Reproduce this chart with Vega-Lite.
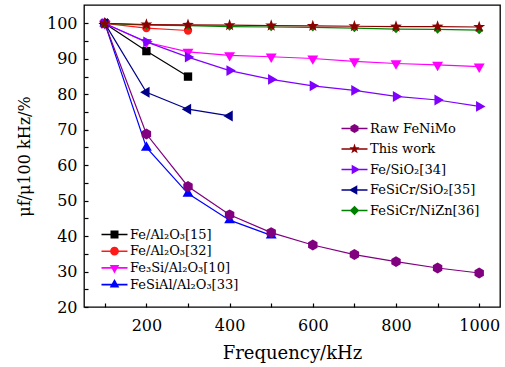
{
  "$schema": "https://vega.github.io/schema/vega-lite/v6.json",
  "width": 416,
  "height": 302,
  "autosize": {"type": "none"},
  "padding": {"left": 84, "top": 5, "right": 5, "bottom": 60},
  "background": "white",
  "config": {
    "view": {"stroke": "black", "strokeWidth": 1.3},
    "font": "DejaVu Serif",
    "axis": {"labelFont": "DejaVu Serif", "titleFont": "DejaVu Serif", "labelColor": "black", "titleColor": "black", "tickColor": "black", "tickWidth": 1.2, "grid": false, "domain": false, "titleFontWeight": "normal"},
    "legend": {"labelFont": "DejaVu Serif", "labelFontSize": 13, "labelColor": "black", "orient": "none", "padding": 0, "labelOffset": 9, "symbolSize": 64, "symbolStrokeWidth": 0}
  },
  "data": {"values": [
    {"s": "Fe/Al₂O₃[15]", "f": 100, "v": 100}, {"s": "Fe/Al₂O₃[15]", "f": 200, "v": 92.2}, {"s": "Fe/Al₂O₃[15]", "f": 300, "v": 85},
    {"s": "Fe/Al₂O₃[32]", "f": 100, "v": 100}, {"s": "Fe/Al₂O₃[32]", "f": 200, "v": 98.7}, {"s": "Fe/Al₂O₃[32]", "f": 300, "v": 98},
    {"s": "Fe₃Si/Al₂O₃[10]", "f": 100, "v": 100}, {"s": "Fe₃Si/Al₂O₃[10]", "f": 200, "v": 94.7}, {"s": "Fe₃Si/Al₂O₃[10]", "f": 300, "v": 92}, {"s": "Fe₃Si/Al₂O₃[10]", "f": 400, "v": 91}, {"s": "Fe₃Si/Al₂O₃[10]", "f": 500, "v": 90.6}, {"s": "Fe₃Si/Al₂O₃[10]", "f": 600, "v": 90.1}, {"s": "Fe₃Si/Al₂O₃[10]", "f": 700, "v": 89.3}, {"s": "Fe₃Si/Al₂O₃[10]", "f": 800, "v": 88.7}, {"s": "Fe₃Si/Al₂O₃[10]", "f": 900, "v": 88.3}, {"s": "Fe₃Si/Al₂O₃[10]", "f": 1000, "v": 87.8},
    {"s": "FeSiAl/Al₂O₃[33]", "f": 100, "v": 100}, {"s": "FeSiAl/Al₂O₃[33]", "f": 200, "v": 65}, {"s": "FeSiAl/Al₂O₃[33]", "f": 300, "v": 52}, {"s": "FeSiAl/Al₂O₃[33]", "f": 400, "v": 44.5}, {"s": "FeSiAl/Al₂O₃[33]", "f": 500, "v": 40.2},
    {"s": "Raw FeNiMo", "f": 100, "v": 100}, {"s": "Raw FeNiMo", "f": 200, "v": 68.8}, {"s": "Raw FeNiMo", "f": 300, "v": 54}, {"s": "Raw FeNiMo", "f": 400, "v": 46}, {"s": "Raw FeNiMo", "f": 500, "v": 41}, {"s": "Raw FeNiMo", "f": 600, "v": 37.5}, {"s": "Raw FeNiMo", "f": 700, "v": 34.8}, {"s": "Raw FeNiMo", "f": 800, "v": 32.8}, {"s": "Raw FeNiMo", "f": 900, "v": 31}, {"s": "Raw FeNiMo", "f": 1000, "v": 29.6},
    {"s": "Fe/SiO₂[34]", "f": 100, "v": 100}, {"s": "Fe/SiO₂[34]", "f": 200, "v": 94.8}, {"s": "Fe/SiO₂[34]", "f": 300, "v": 90.5}, {"s": "Fe/SiO₂[34]", "f": 400, "v": 86.7}, {"s": "Fe/SiO₂[34]", "f": 500, "v": 84.2}, {"s": "Fe/SiO₂[34]", "f": 600, "v": 82.4}, {"s": "Fe/SiO₂[34]", "f": 700, "v": 81.1}, {"s": "Fe/SiO₂[34]", "f": 800, "v": 79.4}, {"s": "Fe/SiO₂[34]", "f": 900, "v": 78.4}, {"s": "Fe/SiO₂[34]", "f": 1000, "v": 76.6},
    {"s": "FeSiCr/SiO₂[35]", "f": 100, "v": 100}, {"s": "FeSiCr/SiO₂[35]", "f": 200, "v": 80.6}, {"s": "FeSiCr/SiO₂[35]", "f": 300, "v": 75.8}, {"s": "FeSiCr/SiO₂[35]", "f": 400, "v": 73.9},
    {"s": "FeSiCr/NiZn[36]", "f": 100, "v": 100}, {"s": "FeSiCr/NiZn[36]", "f": 200, "v": 99.5}, {"s": "FeSiCr/NiZn[36]", "f": 300, "v": 99.4}, {"s": "FeSiCr/NiZn[36]", "f": 400, "v": 99.1}, {"s": "FeSiCr/NiZn[36]", "f": 500, "v": 99}, {"s": "FeSiCr/NiZn[36]", "f": 600, "v": 98.9}, {"s": "FeSiCr/NiZn[36]", "f": 700, "v": 98.7}, {"s": "FeSiCr/NiZn[36]", "f": 800, "v": 98.4}, {"s": "FeSiCr/NiZn[36]", "f": 900, "v": 98.3}, {"s": "FeSiCr/NiZn[36]", "f": 1000, "v": 98.1},
    {"s": "This work", "f": 100, "v": 100}, {"s": "This work", "f": 200, "v": 99.7}, {"s": "This work", "f": 300, "v": 99.6}, {"s": "This work", "f": 400, "v": 99.5}, {"s": "This work", "f": 500, "v": 99.4}, {"s": "This work", "f": 600, "v": 99.3}, {"s": "This work", "f": 700, "v": 99.2}, {"s": "This work", "f": 800, "v": 99.1}, {"s": "This work", "f": 900, "v": 99.1}, {"s": "This work", "f": 1000, "v": 99.0}
  ]},
  "encoding": {
    "x": {
      "field": "f", "type": "quantitative",
      "scale": {"domain": [50, 1050], "nice": false, "zero": false},
      "axis": {
        "title": "Frequency/kHz", "titleFontSize": 18, "titlePadding": 11, "labelFontSize": 16, "labelPadding": 14, "tickSize": -4, "format": "d",
        "values": [100, 200, 300, 400, 500, 600, 700, 800, 900, 1000],
        "labelExpr": "datum.value % 200 === 0 ? datum.label : ''"
      }
    },
    "y": {
      "field": "v", "type": "quantitative",
      "scale": {"domain": [20, 105.2], "nice": false, "zero": false},
      "axis": {
        "title": "μf/μ100 kHz/%", "titleFontSize": 16, "titlePadding": 14, "labelFontSize": 16, "labelPadding": 11, "tickSize": -4,
        "values": [20, 25, 30, 35, 40, 45, 50, 55, 60, 65, 70, 75, 80, 85, 90, 95, 100],
        "labelExpr": "datum.value % 10 === 0 ? datum.label : ''"
      }
    }
  },
  "layer": [
    {
      "transform": [{"filter": {"field": "s", "oneOf": ["Fe/Al₂O₃[15]", "Fe/Al₂O₃[32]", "Fe₃Si/Al₂O₃[10]", "FeSiAl/Al₂O₃[33]"]}}],
      "layer": [
        {
          "mark": {"type": "line", "strokeWidth": 1.2},
          "encoding": {
            "color": {
              "field": "s", "type": "nominal",
              "scale": {"domain": ["Fe/Al₂O₃[15]", "Fe/Al₂O₃[32]", "Fe₃Si/Al₂O₃[10]", "FeSiAl/Al₂O₃[33]"], "range": ["#000000", "#ff1a1a", "#ff00ff", "#0000ff"]},
              "legend": {
                "title": null, "legendX": 24, "legendY": 223, "rowPadding": 2.7,
                "encode": {
                  "symbols": {
                    "update": {
                      "shape": {"signal": "datum.value === 'Fe/Al₂O₃[15]' ? 'M-3.25,-0.2H3.25V0.2H-3.25ZM-1,-1H1V1H-1Z' : datum.value === 'Fe/Al₂O₃[32]' ? 'M-3.25,-0.2H3.25V0.2H-3.25ZM-1.1,0A1.1,1.1,0,1,1,1.1,0A1.1,1.1,0,1,1,-1.1,0Z' : datum.value === 'Fe₃Si/Al₂O₃[10]' ? 'M-3.25,-0.2H3.25V0.2H-3.25ZM-1.2,-0.7L1.2,-0.7L0,1.4Z' : 'M-3.25,-0.2H3.25V0.2H-3.25ZM1.2,0.7L-1.2,0.7L0,-1.4Z'"}
                    }
                  }
                }
              }
            }
          }
        },
        {
          "mark": {"type": "point", "filled": true, "opacity": 1, "size": 70},
          "encoding": {
            "color": {
              "field": "s", "type": "nominal",
              "scale": {"domain": ["Fe/Al₂O₃[15]", "Fe/Al₂O₃[32]", "Fe₃Si/Al₂O₃[10]", "FeSiAl/Al₂O₃[33]"], "range": ["#000000", "#ff1a1a", "#ff00ff", "#0000ff"]},
              "legend": {
                "title": null, "legendX": 24, "legendY": 223, "rowPadding": 2.7,
                "encode": {
                  "symbols": {
                    "update": {
                      "shape": {"signal": "datum.value === 'Fe/Al₂O₃[15]' ? 'M-3.25,-0.2H3.25V0.2H-3.25ZM-1,-1H1V1H-1Z' : datum.value === 'Fe/Al₂O₃[32]' ? 'M-3.25,-0.2H3.25V0.2H-3.25ZM-1.1,0A1.1,1.1,0,1,1,1.1,0A1.1,1.1,0,1,1,-1.1,0Z' : datum.value === 'Fe₃Si/Al₂O₃[10]' ? 'M-3.25,-0.2H3.25V0.2H-3.25ZM-1.2,-0.7L1.2,-0.7L0,1.4Z' : 'M-3.25,-0.2H3.25V0.2H-3.25ZM1.2,0.7L-1.2,0.7L0,-1.4Z'"}
                    }
                  }
                }
              }
            },
            "shape": {
              "field": "s", "type": "nominal", "legend": null,
              "scale": {"domain": ["FeSiAl/Al₂O₃[33]", "Fe₃Si/Al₂O₃[10]", "Fe/Al₂O₃[32]", "Fe/Al₂O₃[15]"], "range": ["M1.3,0.75L-1.3,0.75L0,-1.5Z", "M-1.3,-0.75L1.3,-0.75L0,1.5Z", "circle", "square"]}
            }
          }
        }
      ]
    },
    {
      "transform": [{"filter": {"field": "s", "oneOf": ["Raw FeNiMo", "Fe/SiO₂[34]", "FeSiCr/SiO₂[35]", "FeSiCr/NiZn[36]", "This work"]}}],
      "layer": [
        {
          "mark": {"type": "line", "strokeWidth": 1.2},
          "encoding": {
            "color": {
              "field": "s", "type": "nominal",
              "scale": {"domain": ["Raw FeNiMo", "This work", "Fe/SiO₂[34]", "FeSiCr/SiO₂[35]", "FeSiCr/NiZn[36]"], "range": ["#800080", "#8b0000", "#8000ff", "#00008b", "#008000"]},
              "legend": {
                "title": null, "legendX": 264, "legendY": 117, "rowPadding": 6.5,
                "encode": {
                  "symbols": {
                    "update": {
                      "shape": {"signal": "datum.value === 'Raw FeNiMo' ? 'M-3.25,-0.2H3.25V0.2H-3.25ZM0,-1.15L1,-0.575L1,0.575L0,1.15L-1,0.575L-1,-0.575Z' : datum.value === 'This work' ? 'M-3.25,-0.2H3.25V0.2H-3.25ZM0,-1.35L0.318,-0.437L1.284,-0.418L0.514,0.167L0.794,1.093L0,0.54L-0.794,1.093L-0.514,0.167L-1.284,-0.418L-0.318,-0.437Z' : datum.value === 'Fe/SiO₂[34]' ? 'M-3.25,-0.2H3.25V0.2H-3.25ZM-0.7,1.2L-0.7,-1.2L1.4,0Z' : datum.value === 'FeSiCr/SiO₂[35]' ? 'M-3.25,-0.2H3.25V0.2H-3.25ZM0.7,-1.2L0.7,1.2L-1.4,0Z' : 'M-3.25,-0.2H3.25V0.2H-3.25ZM0,-1.2L1.2,0L0,1.2L-1.2,0Z'"}
                    }
                  }
                }
              }
            }
          }
        },
        {
          "mark": {"type": "point", "filled": true, "opacity": 1, "size": 70},
          "encoding": {
            "color": {
              "field": "s", "type": "nominal",
              "scale": {"domain": ["Raw FeNiMo", "This work", "Fe/SiO₂[34]", "FeSiCr/SiO₂[35]", "FeSiCr/NiZn[36]"], "range": ["#800080", "#8b0000", "#8000ff", "#00008b", "#008000"]},
              "legend": {
                "title": null, "legendX": 264, "legendY": 117, "rowPadding": 6.5,
                "encode": {
                  "symbols": {
                    "update": {
                      "shape": {"signal": "datum.value === 'Raw FeNiMo' ? 'M-3.25,-0.2H3.25V0.2H-3.25ZM0,-1.15L1,-0.575L1,0.575L0,1.15L-1,0.575L-1,-0.575Z' : datum.value === 'This work' ? 'M-3.25,-0.2H3.25V0.2H-3.25ZM0,-1.35L0.318,-0.437L1.284,-0.418L0.514,0.167L0.794,1.093L0,0.54L-0.794,1.093L-0.514,0.167L-1.284,-0.418L-0.318,-0.437Z' : datum.value === 'Fe/SiO₂[34]' ? 'M-3.25,-0.2H3.25V0.2H-3.25ZM-0.7,1.2L-0.7,-1.2L1.4,0Z' : datum.value === 'FeSiCr/SiO₂[35]' ? 'M-3.25,-0.2H3.25V0.2H-3.25ZM0.7,-1.2L0.7,1.2L-1.4,0Z' : 'M-3.25,-0.2H3.25V0.2H-3.25ZM0,-1.2L1.2,0L0,1.2L-1.2,0Z'"}
                    }
                  }
                }
              }
            },
            "shape": {
              "field": "s", "type": "nominal", "legend": null,
              "scale": {"domain": ["FeSiCr/NiZn[36]", "FeSiCr/SiO₂[35]", "Fe/SiO₂[34]", "This work", "Raw FeNiMo"], "range": ["diamond", "M0.75,-1.3L0.75,1.3L-1.5,0Z", "M-0.75,1.3L-0.75,-1.3L1.5,0Z", "M0,-1.5L0.353,-0.485L1.427,-0.464L0.571,0.185L0.882,1.214L0,0.6L-0.882,1.214L-0.571,0.185L-1.427,-0.464L-0.353,-0.485Z", "M0,-1.3L1.126,-0.65L1.126,0.65L0,1.3L-1.126,0.65L-1.126,-0.65Z"]}
            }
          }
        }
      ]
    }
  ],
  "resolve": {"scale": {"color": "independent", "shape": "independent"}}
}
